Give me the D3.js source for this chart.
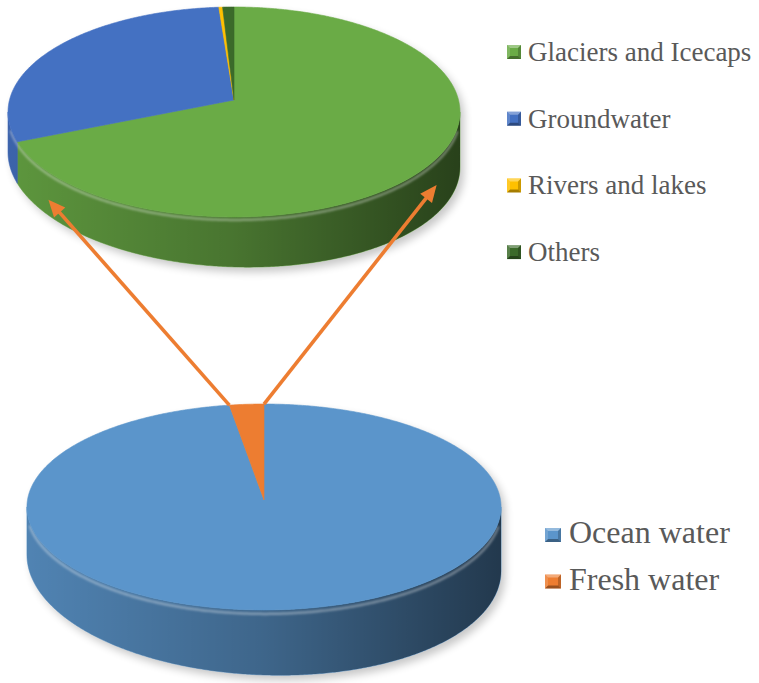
<!DOCTYPE html>
<html><head><meta charset="utf-8">
<script src="https://cdn.jsdelivr.net/npm/d3@7"></script>
<style>body{margin:0;background:#fff;} svg{display:block}</style>
</head><body>
<svg id="chart" width="759" height="683"></svg>
<script>
const freshCategories = ["Glaciers and Icecaps", "Groundwater", "Rivers and lakes", "Others"];
const freshValues = [68.7, 30.1, 0.3, 0.9];
const waterCategories = ["Ocean water", "Fresh water"];
const waterValues = [97.5, 2.5];

const freshColors = ["#6aab46", "#4471c2", "#ffc000", "#3b6a2a"];
const waterColors = ["#5b95cb", "#ed7d31"];

const svg = d3.select("#chart");
const defs = svg.append("defs");
const grad = defs.append("linearGradient").attr("id", "sideShade")
  .attr("x1", "0").attr("x2", "1").attr("y1", "0").attr("y2", "0");
[[0, 0.12], [0.5, 0.32], [1, 0.62]].forEach(([o, a]) =>
  grad.append("stop").attr("offset", o).attr("stop-color", "#000").attr("stop-opacity", a));
defs.append("filter").attr("id", "blur").attr("x", "-20%").attr("y", "-20%").attr("width", "140%").attr("height", "140%")
  .append("feGaussianBlur").attr("stdDeviation", 4);
defs.append("filter").attr("id", "soft").attr("x", "-10%").attr("y", "-10%").attr("width", "120%").attr("height", "120%")
  .append("feGaussianBlur").attr("stdDeviation", 1.2);

const line = d3.line();

function drawPie3D(parent, values, colors, cfg) {
  const arcs = d3.pie().sort(null).startAngle(0).endAngle(2 * Math.PI)(values);
  const w = t => 1 + cfg.k * Math.cos(t);
  const depth = t => cfg.d0 + cfg.d1 * Math.sin(t) + cfg.d2 * Math.max(0, -Math.cos(t));
  const P = (t, f = 0) => [cfg.cx + cfg.rx * Math.sin(t) / w(t),
                           cfg.cy - cfg.ry * Math.cos(t) / w(t) + f * depth(t)];
  const samples = (a, b, f) => {
    const n = Math.max(2, Math.ceil(Math.abs(b - a) / (Math.PI / 360)));
    return d3.range(n + 1).map(i => P(a + (b - a) * i / n, f));
  };
  const tS = Math.acos(-cfg.k), tE = 2 * Math.PI - tS;
  const g = parent.append("g");

  // soft shadow
  const outline = samples(tS, tE, 1).concat(samples(tE, tS + 2 * Math.PI, 0));
  g.append("path").attr("d", line(outline) + "Z")
    .attr("fill", "#000").attr("opacity", 0.22)
    .attr("transform", "translate(4,5)").attr("filter", "url(#blur)");

  // sides
  arcs.forEach((a, i) => {
    const lo = Math.max(a.startAngle, tS), hi = Math.min(a.endAngle, tE);
    if (hi > lo) {
      const pts = samples(lo, hi, 0).concat(samples(hi, lo, 1));
      g.append("path").attr("d", line(pts) + "Z")
        .attr("fill", colors[i]).attr("stroke", colors[i]).attr("stroke-width", 0.6);
    }
  });
  const side = samples(tS, tE, 0).concat(samples(tE, tS, 1));
  g.append("path").attr("d", line(side) + "Z").attr("fill", "url(#sideShade)");
  // rim highlight
  g.append("path").attr("d", line(samples(tS + 0.15, tE - 0.15, 0.06)))
    .attr("fill", "none").attr("stroke", "#fff").attr("stroke-opacity", 0.35)
    .attr("stroke-width", 2.5).attr("filter", "url(#soft)");

  // top faces
  arcs.forEach((a, i) => {
    const pts = [[cfg.cx, cfg.cy]].concat(samples(a.startAngle, a.endAngle, 0));
    g.append("path").attr("d", line(pts) + "Z")
      .attr("fill", colors[i]).attr("stroke", colors[i]).attr("stroke-width", 0.6)
      .attr("stroke-linejoin", "round");
  });
  return { P, arcs };
}

const topPie = drawPie3D(svg, freshValues, freshColors,
  { cx: 234, cy: 100, rx: 224.5, ry: 103.6, k: 0.114, d0: 47.5, d1: 7.5, d2: 2.5 });
const botPie = drawPie3D(svg, waterValues, waterColors,
  { cx: 264, cy: 500, rx: 236.5, ry: 102.5, k: 0.068, d0: 55, d1: 8, d2: 10 });

// connecting arrows
const fresh = botPie.arcs[1];
const arrows = [
  { from: botPie.P(fresh.startAngle), to: topPie.P(230 * Math.PI / 180, 0.645) },
  { from: botPie.P(fresh.endAngle), to: topPie.P(122 * Math.PI / 180, 0.48) }
];
const ag = svg.append("g");
arrows.forEach(({ from, to }) => {
  const dx = to[0] - from[0], dy = to[1] - from[1];
  const L = Math.hypot(dx, dy), ux = dx / L, uy = dy / L;
  const hl = 17, hw = 7.5;
  const base = [to[0] - ux * hl, to[1] - uy * hl];
  ag.append("line").attr("x1", from[0]).attr("y1", from[1])
    .attr("x2", base[0] + ux * 2).attr("y2", base[1] + uy * 2)
    .attr("stroke", "#ed7d31").attr("stroke-width", 3.6);
  const pts = [to, [base[0] - uy * hw, base[1] + ux * hw], [base[0] + uy * hw, base[1] - ux * hw]];
  ag.append("path").attr("d", line(pts) + "Z").attr("fill", "#ed7d31");
});

// legends
function bevelMarker(g, x, y, wd, ht, color) {
  g.append("rect").attr("x", x).attr("y", y).attr("width", wd).attr("height", ht).attr("fill", color);
  const ins = 3;
  const c = [[x, y], [x + wd, y], [x + wd, y + ht], [x, y + ht]];
  const ic = [[x + ins, y + ins], [x + wd - ins, y + ins], [x + wd - ins, y + ht - ins], [x + ins, y + ht - ins]];
  const shades = [["#fff", 0.35], ["#000", 0.2], ["#000", 0.35], ["#fff", 0.15]];
  for (let k = 0; k < 4; k++) {
    const pts = [c[k], c[(k + 1) % 4], ic[(k + 1) % 4], ic[k]];
    g.append("path").attr("d", line(pts) + "Z").attr("fill", shades[k][0]).attr("opacity", shades[k][1]);
  }
}
const font = "'Liberation Serif','Times New Roman',serif";
const lg1 = svg.append("g");
freshCategories.forEach((name, i) => {
  const by = 61 + i * 66.7;
  bevelMarker(lg1, 507, by - 16, 14, 14, freshColors[i]);
  lg1.append("text").attr("x", 528).attr("y", by).text(name)
    .attr("font-family", font).attr("font-size", 27).attr("fill", "#595959");
});
const lg2 = svg.append("g");
waterCategories.forEach((name, i) => {
  const by = 543 + i * 46.5;
  bevelMarker(lg2, 545, by - 15, 16, 14, waterColors[i]);
  lg2.append("text").attr("x", 569).attr("y", by).text(name)
    .attr("font-family", font).attr("font-size", 32).attr("fill", "#595959");
});
</script>
</body></html>
